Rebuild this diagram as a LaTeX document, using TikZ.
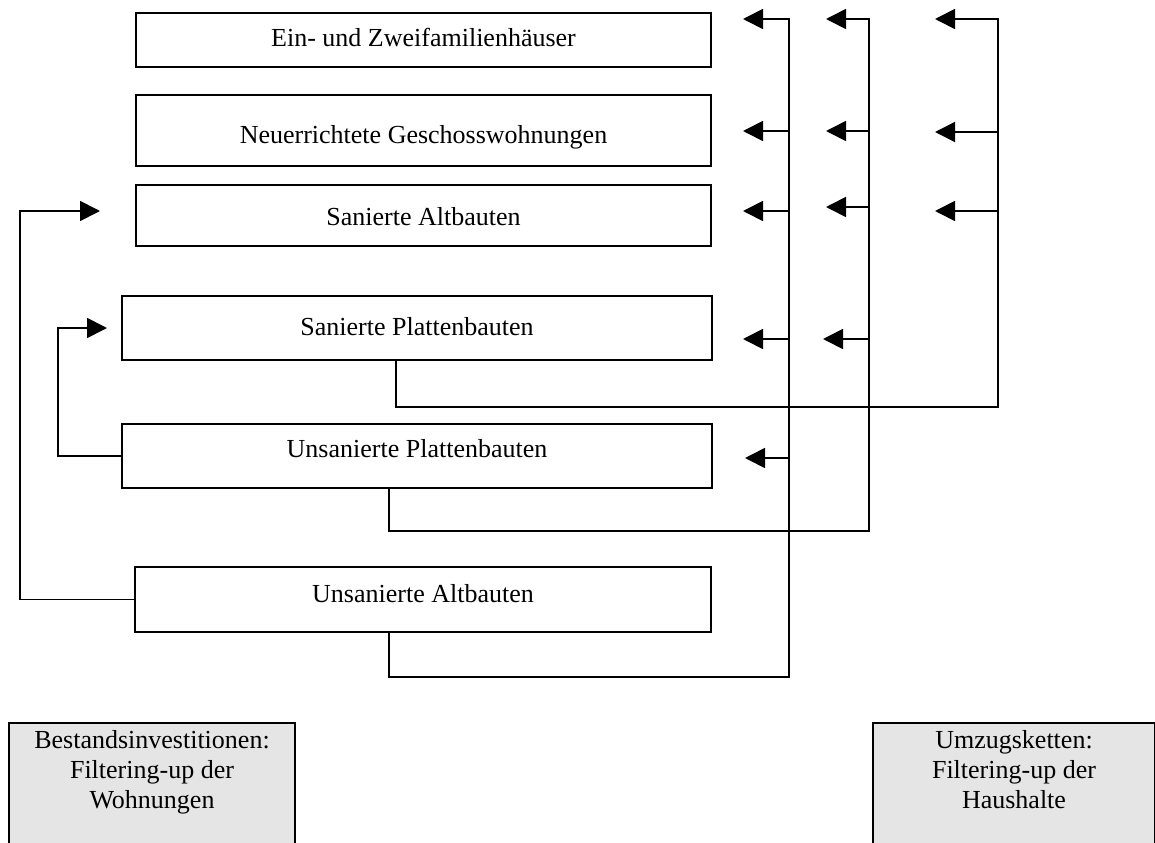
\documentclass[tikz,border=0pt]{standalone}
\usepackage{fontspec}
\setmainfont{Liberation Serif}
\usetikzlibrary{arrows.meta,positioning}
\tikzset{
	stock/.style={draw, line width=1.5pt, inner sep=0pt, minimum width=431.25pt,
		text height=19.5pt, text depth=#1},
	note/.style={draw, line width=1.5pt, fill=black!10, inner sep=0pt, anchor=north west},
	flow/.style={line width=1.3pt},
	push/.style={flow, -{Triangle[length=15pt,width=15pt]}}
}

\begin{document}
\begin{tikzpicture}[x=0.75pt, y=-0.75pt, font=\fontsize{19.5}{22.5}\selectfont]
	\useasboundingbox (0,0) rectangle (1155,842);
	\clip (0,0) rectangle (1155,842);
	% Wohnungsbestand
	\node[stock=9pt, minimum height=40.5pt] (efh) at (423.5,40) {Ein- und Zweifamilienhäuser};
	\node[stock=0.75pt, minimum height=53.25pt] (neu) at (423.5,130.5) {Neuerrichtete Geschosswohnungen};
	\node[stock=5.25pt, minimum height=45.75pt] (altsan) at (423.5,215.5) {Sanierte Altbauten};
	\node[stock=9pt, minimum height=48pt, minimum width=442.5pt] (plsan) at (417,328) {Sanierte Plattenbauten};
	\node[stock=18pt, minimum height=48pt, minimum width=442.5pt] (plunsan) at (417,456) {Unsanierte Plattenbauten};
	\node[stock=15.75pt, minimum height=48.75pt, minimum width=432pt] (altunsan) at (423,599.5) {Unsanierte Altbauten};

	% Bestandsinvestitionen
	\draw[push] (altunsan.west) -| (20,211) -- (100,211);
	\draw[push] (plunsan.west) -| (58,328) -- (107,328);

	% Umzugsketten
	\draw[push] ([xshift=-25.5pt]altunsan.south) |- (789,677) -- (789,19) -- (743,19);
	\foreach \y in {131,211,339}
		\draw[push] (789,\y) -- (743,\y);
	\draw[push] (789,458) -- (745,458);

	\draw[push] ([xshift=-21pt]plunsan.south) |- (869,531) -- (869,19) -- (826,19);
	\foreach \y in {131,207}
		\draw[push] (869,\y) -- (826,\y);
	\draw[push] (869,339) -- (823,339);

	\draw[push] ([xshift=-15.75pt]plsan.south) |- (998,407) -- (998,19) -- (935,19);
	\foreach \y in {132,211}
		\draw[push] (998,\y) -- (935,\y);

	% Legende
	\node[note, minimum width=214.5pt, minimum height=120pt] (wohn) at (8,722) {};
	\node[below=6pt of wohn.north, align=center, inner sep=0pt] (wohntxt)
		{Bestandsinvestitionen:\\Filtering-up der\\Wohnungen};
	\node[note, minimum width=211.5pt, minimum height=120pt] (haus) at (872,722) {};
	\node[below=6pt of haus.north, align=center, inner sep=0pt] (haustxt)
		{Umzugsketten:\\Filtering-up der\\Haushalte};
\end{tikzpicture}
\end{document}
